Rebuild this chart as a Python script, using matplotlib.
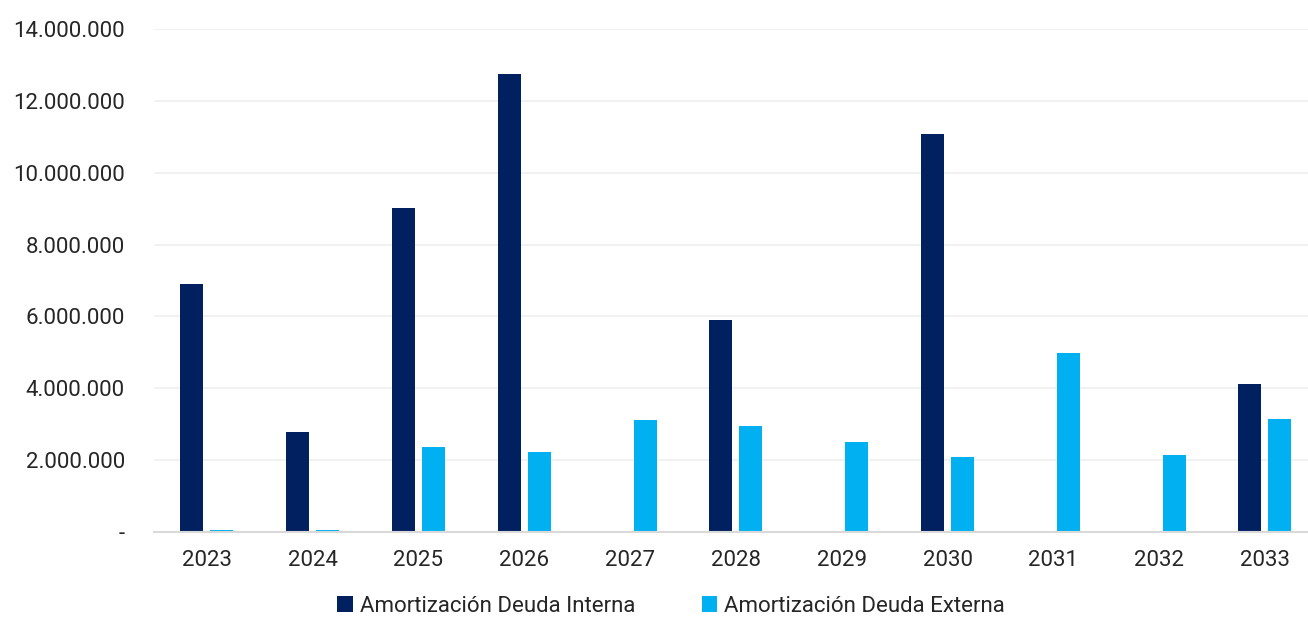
import matplotlib

matplotlib.use("Agg")
import matplotlib.pyplot as plt
import numpy as np
from matplotlib.ticker import FuncFormatter

years = ["2023", "2024", "2025", "2026", "2027", "2028", "2029", "2030", "2031", "2032", "2033"]
deuda_interna = [
    6_900_000, 2_770_000, 9_030_000, 12_750_000, 25_000, 5_900_000,
    25_000, 11_080_000, 0, 25_000, 4_120_000,
]
deuda_externa = [
    55_000, 55_000, 2_360_000, 2_220_000, 3_110_000, 2_940_000,
    2_490_000, 2_080_000, 4_980_000, 2_130_000, 3_150_000,
]
y_ticks = [0, 2_000_000, 4_000_000, 6_000_000, 8_000_000, 10_000_000, 12_000_000, 14_000_000]

NAVY = "#002060"
SKY = "#00B0F0"
TEXT = "#262626"

plt.rcParams["font.family"] = ["Roboto", "DejaVu Sans"]


def _miles(value, _pos):
    if value == 0:
        return "-"
    return f"{value:,.0f}".replace(",", ".")


fig = plt.figure(figsize=(13.08, 6.2), dpi=100)
ax = fig.add_axes([0.1177, 0.1424, 0.8823, 0.8103])

x = np.arange(len(years))
offset = 0.142
width = 0.217
ax.bar(x - offset, deuda_interna, width, color=NAVY, label="Amortización Deuda Interna", zorder=3)
ax.bar(x + offset, deuda_externa, width, color=SKY, label="Amortización Deuda Externa", zorder=3)

ax.set_xlim(-0.5, 10.407)
ax.set_ylim(0, 14_000_000)
ax.set_xticks(x, years)
ax.set_yticks(y_ticks)
ax.yaxis.set_major_formatter(FuncFormatter(_miles))
ax.tick_params(axis="both", length=0, labelsize=16, labelcolor=TEXT)
ax.tick_params(axis="y", pad=21)
ax.tick_params(axis="x", pad=13.5)

ax.grid(axis="y", color="#efefef", linewidth=1.2, zorder=0)
for side in ("top", "right", "left"):
    ax.spines[side].set_visible(False)
ax.spines["bottom"].set_color("#d9d9d9")
ax.spines["bottom"].set_linewidth(1.5)
ax.spines["bottom"].set_zorder(4)

fig.legend(
    loc="center",
    bbox_to_anchor=(0.513, 0.022),
    ncol=2,
    frameon=False,
    fontsize=16,
    labelcolor=TEXT,
    handlelength=0.7,
    handleheight=0.7,
    handletextpad=0.3,
    columnspacing=3.0,
    borderpad=0.1,
)

fig.savefig("out.png", dpi=100)
plt.close(fig)
